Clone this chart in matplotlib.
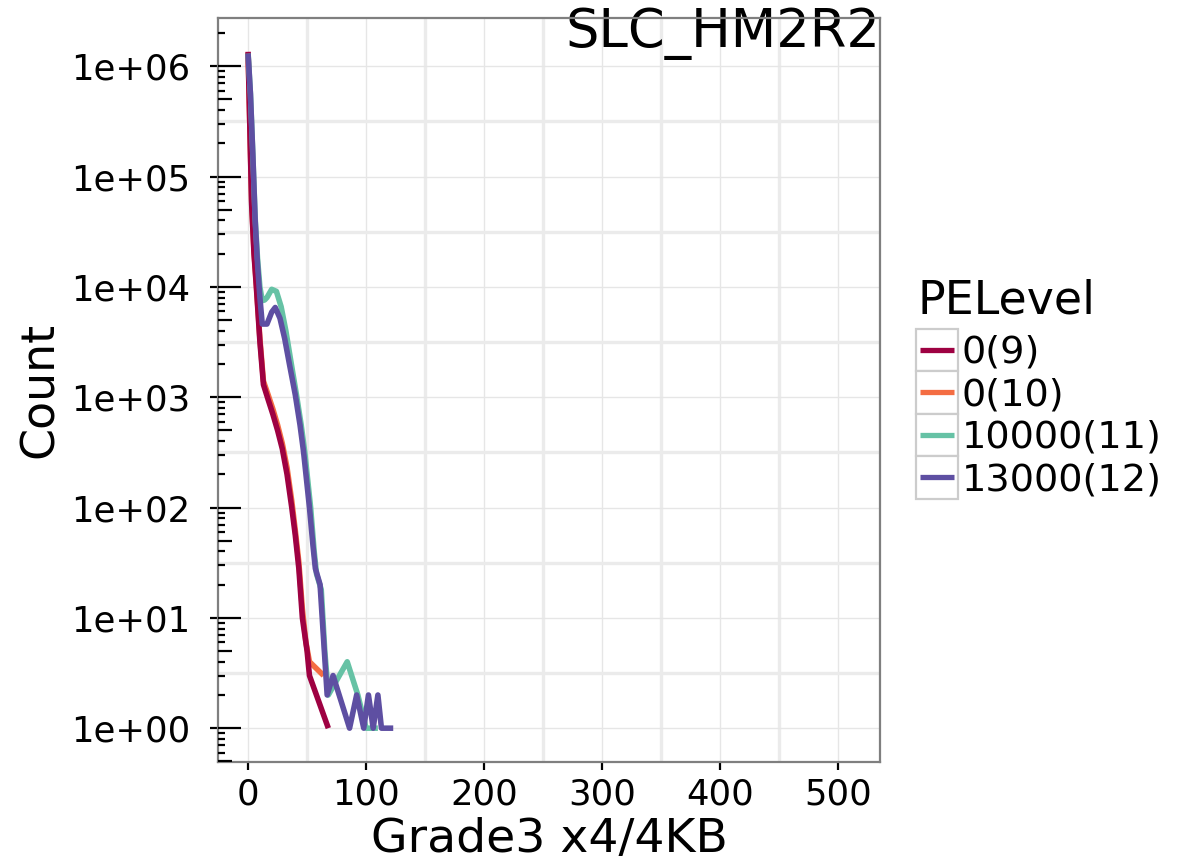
import numpy as np
import matplotlib
matplotlib.use("Agg")
import matplotlib.pyplot as plt
from matplotlib.patches import Rectangle
from matplotlib.lines import Line2D
from matplotlib.transforms import blended_transform_factory

W, H = 1186, 864

# legend levels and colours
levels = ["0(9)", "0(10)", "10000(11)", "13000(12)"]
colors = ["#9E0142", "#F46D43", "#66C2A5", "#5E4FA2"]

# series (x = Grade3 x4/4KB, n = Count)
x_09 = [0, 3, 5, 7, 10, 13, 17, 21, 25, 29, 33, 37, 40, 43, 46, 50, 52, 68]
n_09 = [1350000, 56000, 20000, 10000, 3200, 1300, 950, 700, 500, 340, 200, 100, 56, 28, 10, 5, 3, 1]

x_10 = [0, 3, 5, 7, 10, 13, 17, 21, 25, 29, 33, 37, 40, 43, 46, 49, 52, 64]
n_10 = [1320000, 60000, 21000, 10500, 3400, 1400, 1050, 780, 560, 380, 230, 115, 62, 32, 12, 6, 4, 3]

x_11 = [0, 2, 4, 6, 8, 10, 12, 14, 16, 20, 24, 28, 32, 36, 41, 45, 48, 53, 56, 58, 62, 65, 68, 84, 93, 100, 110]
n_11 = [1300000, 560000, 160000, 42000, 18000, 10000, 7500, 7600, 8000, 9500, 9100, 6600, 4000, 2200, 1050, 560, 320,
        100, 40, 25, 18, 5, 2, 4, 2, 1, 1]

x_12 = [0, 2, 4, 6, 8, 10, 12, 16, 20, 23, 27, 31, 35, 40, 44, 47, 52, 55, 57, 61, 67, 72, 86, 92, 98, 102, 106, 110, 113, 123]
n_12 = [1300000, 560000, 160000, 40000, 16000, 8000, 4600, 4600, 5900, 6500, 5200, 3400, 2000, 1050, 560, 320,
        100, 45, 28, 20, 2, 3, 1, 2, 1, 2, 1, 2, 1, 1]

xs = [x_09, x_10, x_11, x_12]
ns = [n_09, n_10, n_11, n_12]
zorders = [3.2, 3.0, 3.4, 3.6]

x_ticks = [0, 100, 200, 300, 400, 500]
y_ticks = [1, 10, 100, 1000, 10000, 100000, 1000000]
y_labels = ["1e+00", "1e+01", "1e+02", "1e+03", "1e+04", "1e+05", "1e+06"]

plt.rcParams['font.family'] = ['DejaVu Sans']

fig = plt.figure(figsize=(W / 100, H / 100), dpi=100)


def fx(px):
    return px / W


def fy(py):
    return 1 - py / H


ax = fig.add_axes([fx(218), fy(762), fx(880) - fx(218), fy(18) - fy(762)])

for x, n, c, z in zip(xs, ns, colors, zorders):
    ax.plot(x, n, color=c, lw=4.0, solid_capstyle='butt', solid_joinstyle='round', zorder=z)

ax.set_yscale('log')
ylo, yhi = 10 ** -0.3065, 10 ** 6.4366

ax.set_xticks(x_ticks)
ax.set_xticks([50, 150, 250, 350, 450], minor=True)
ax.set_yticks(y_ticks)
ax.set_yticklabels(y_labels)
ax.set_yticks([10 ** (k + 0.5) for k in range(0, 6)], minor=True)
ax.yaxis.set_minor_formatter(plt.NullFormatter())

ax.set_xlim(-25.5, 535.5)
ax.set_ylim(ylo, yhi)

ax.set_axisbelow(True)
ax.grid(which='major', color='#E6E6E6', lw=1.0)
ax.grid(which='minor', color='#EBEBEB', lw=2.4)

ax.tick_params(which='major', direction='out', length=6, width=1.6, color='black', labelsize=25.5)
ax.tick_params(axis='y', which='major', pad=14)
ax.tick_params(axis='x', which='major', pad=5)
ax.tick_params(which='minor', length=0)

for s in ax.spines.values():
    s.set_color('#7F7F7F')
    s.set_linewidth(1.6)

# log ticks inside the panel
tr = blended_transform_factory(ax.transAxes, ax.transData)
pw = 662.0
for k in range(-1, 7):
    for m in range(1, 10):
        v = m * 10 ** k
        if v < ylo or v > yhi:
            continue
        L = 23 if m == 1 else (14 if m == 5 else 7)
        ax.plot([0, L / pw], [v, v], transform=tr, color='black', lw=1.6, solid_capstyle='butt', zorder=2.6)

ax.set_xlim(-25.5, 535.5)
ax.set_ylim(ylo, yhi)

ax.text(1.0, (762 - 47) / 744, "SLC_HM2R2", transform=ax.transAxes, ha='right', va='baseline',
        fontsize=38, zorder=1)

fig.text(fx(40), fy(390), "Count", rotation=90, ha='center', va='center', fontsize=33)
fig.text(fx(549), fy(852), "Grade3 x4/4KB", ha='center', va='baseline', fontsize=34)

# legend
fig.text(fx(918), fy(313), "PELevel", ha='left', va='baseline', fontsize=33)
kh = 42.5
for i, (lab, c) in enumerate(zip(levels, colors)):
    top = 328.5 + i * kh
    fig.add_artist(Rectangle((fx(916), fy(top + kh)), fx(958) - fx(916), kh / H,
                             facecolor='white', edgecolor='#CCCCCC', lw=1.6, transform=fig.transFigure))
    cy = top + kh / 2
    fig.add_artist(Line2D([fx(920), fx(954)], [fy(cy), fy(cy)], color=c, lw=3.8,
                          solid_capstyle='butt', transform=fig.transFigure))
    fig.text(fx(962), fy(cy + 13), lab, ha='left', va='baseline', fontsize=27.5)

fig.savefig('out.png', dpi=100)
